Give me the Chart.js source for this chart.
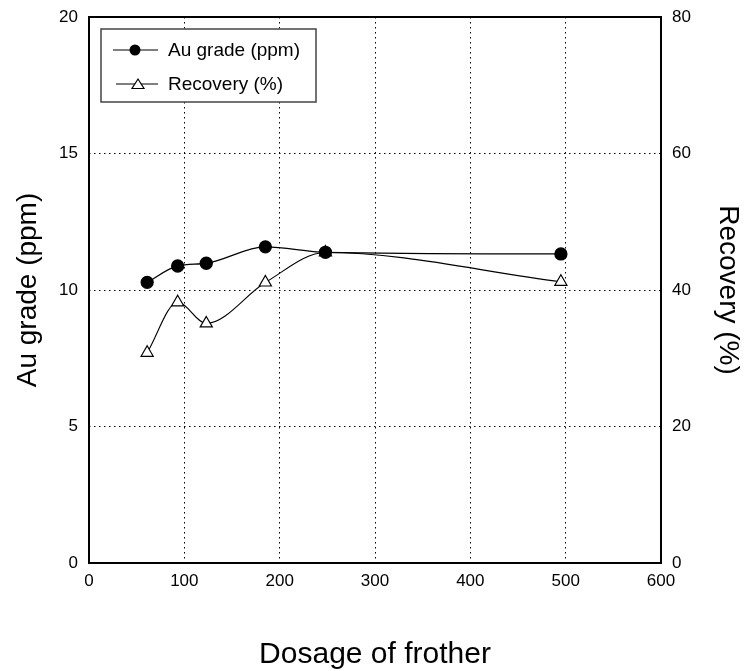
<!DOCTYPE html>
<html>
<head>
<meta charset="utf-8">
<script src="https://cdn.jsdelivr.net/npm/chart.js@4/dist/chart.umd.min.js"></script>
<style>
  html, body { margin: 0; padding: 0; background: #fff; }
  #wrap { width: 745px; height: 671px; }
</style>
</head>
<body>
<div id="wrap"><canvas id="myChart" width="745" height="671"></canvas></div>
<script>
// data
const dosage = [61, 93, 123, 185, 248, 495]
const auGrade = [10.28, 10.88, 10.98, 11.58, 11.38, 11.32]
const recovery = [30.8, 38.2, 35.1, 41.1, 45.5, 41.2]
const xTicks = [0, 100, 200, 300, 400, 500, 600]
const leftTicks = [0, 5, 10, 15, 20]
const rightTicks = [0, 20, 40, 60, 80]

const font = 'Arial, "Liberation Sans", sans-serif'
const dots = [1.5, 3.5]

const toPoints = ys => dosage.map((x, i) => ({ x: x, y: ys[i] }))

// black frame round the plot, plus the boxed legend in the upper left
const framePlugin = {
	id: 'frame',
	afterDraw(chart) {
		const { ctx, chartArea: a } = chart
		ctx.save()
		ctx.strokeStyle = '#000'
		ctx.lineWidth = 2
		ctx.strokeRect(a.left, a.top, a.right - a.left, a.bottom - a.top)

		// legend
		const bx = a.left + 12, by = a.top + 12, bw = 215, bh = 73
		ctx.fillStyle = '#fff'
		ctx.fillRect(bx, by, bw, bh)
		ctx.strokeStyle = '#444'
		ctx.lineWidth = 1.5
		ctx.strokeRect(bx, by, bw, bh)

		const rows = [
			{ label: 'Au grade (ppm)', style: 'circle', y: by + 21, x0: 12, cx: 34 },
			{ label: 'Recovery (%)', style: 'triangle', y: by + 55, x0: 15, cx: 37 },
		]
		ctx.font = '19px ' + font
		ctx.textBaseline = 'middle'
		rows.forEach(r => {
			ctx.strokeStyle = '#000'
			ctx.lineWidth = 1.2
			ctx.beginPath()
			ctx.moveTo(bx + r.x0, r.y)
			ctx.lineTo(bx + 57, r.y)
			ctx.stroke()
			const cx = bx + r.cx
			if (r.style === 'circle') {
				ctx.fillStyle = '#000'
				ctx.beginPath()
				ctx.arc(cx, r.y, 5.5, 0, Math.PI * 2)
				ctx.fill()
			} else {
				ctx.fillStyle = '#fff'
				ctx.beginPath()
				ctx.moveTo(cx, r.y - 5)
				ctx.lineTo(cx + 6, r.y + 4.5)
				ctx.lineTo(cx - 6, r.y + 4.5)
				ctx.closePath()
				ctx.fill()
				ctx.stroke()
			}
			ctx.fillStyle = '#000'
			ctx.fillText(r.label, bx + 67, r.y + 1)
		})
		ctx.restore()
	},
}

const noPad = s => {
	s.paddingTop = 0
	s.paddingBottom = 0
	s.paddingLeft = 0
	s.paddingRight = 0
}

const ctx = document.getElementById('myChart').getContext('2d')
const myChart = new Chart(ctx, {
	type: 'scatter',
	data: {
		datasets: [
			{
				label: 'Au grade (ppm)',
				data: toPoints(auGrade),
				yAxisID: 'y',
				showLine: true,
				borderColor: '#000',
				borderWidth: 1.3,
				backgroundColor: '#000',
				pointBackgroundColor: '#000',
				pointBorderColor: '#000',
				pointRadius: 6,
				pointStyle: 'circle',
				cubicInterpolationMode: 'monotone',
			},
			{
				label: 'Recovery (%)',
				data: toPoints(recovery),
				yAxisID: 'y2',
				showLine: true,
				borderColor: '#000',
				borderWidth: 1.1,
				backgroundColor: '#fff',
				pointBackgroundColor: '#fff',
				pointBorderColor: '#000',
				pointBorderWidth: 1.2,
				pointRadius: 7,
				pointStyle: 'triangle',
				cubicInterpolationMode: 'monotone',
			},
		],
	},
	options: {
		responsive: false,
		animation: false,
		layout: { padding: { top: 17, left: 0, right: 0, bottom: 0 } },
		plugins: {
			legend: { display: false },
			tooltip: { enabled: false },
		},
		scales: {
			x: {
				type: 'linear',
				min: 0,
				max: 600,
				afterBuildTicks: s => { s.ticks = xTicks.map(v => ({ value: v })) },
				afterFit: s => { s.height = 108; noPad(s) },
				grid: { color: '#000', lineWidth: 1, drawTicks: false },
				border: { display: false, dash: dots },
				ticks: { color: '#000', padding: 8, font: { size: 17, family: font } },
				title: {
					display: true,
					text: 'Dosage of frother',
					color: '#000',
					font: { size: 30, family: font, lineHeight: 1.1 },
					padding: { top: 0, bottom: 0 },
				},
			},
			y: {
				position: 'left',
				min: 0,
				max: 20,
				afterBuildTicks: s => { s.ticks = leftTicks.map(v => ({ value: v })) },
				afterFit: s => { s.width = 89; noPad(s) },
				grid: { color: '#000', lineWidth: 1, drawTicks: false },
				border: { display: false, dash: dots },
				ticks: { color: '#000', padding: 11, font: { size: 17, family: font } },
				title: {
					display: true,
					text: 'Au grade (ppm)',
					color: '#000',
					font: { size: 28, family: font },
					padding: { top: 11, bottom: 0 },
				},
			},
			y2: {
				position: 'right',
				min: 0,
				max: 80,
				afterBuildTicks: s => { s.ticks = rightTicks.map(v => ({ value: v })) },
				afterFit: s => { s.width = 84; noPad(s) },
				grid: { drawOnChartArea: false, drawTicks: false },
				border: { display: false },
				ticks: { color: '#000', padding: 11, font: { size: 17, family: font } },
				title: {
					display: true,
					text: 'Recovery (%)',
					color: '#000',
					font: { size: 28, family: font },
					padding: { top: 0, bottom: 0 },
				},
			},
		},
	},
	plugins: [framePlugin],
})
</script>
</body>
</html>
